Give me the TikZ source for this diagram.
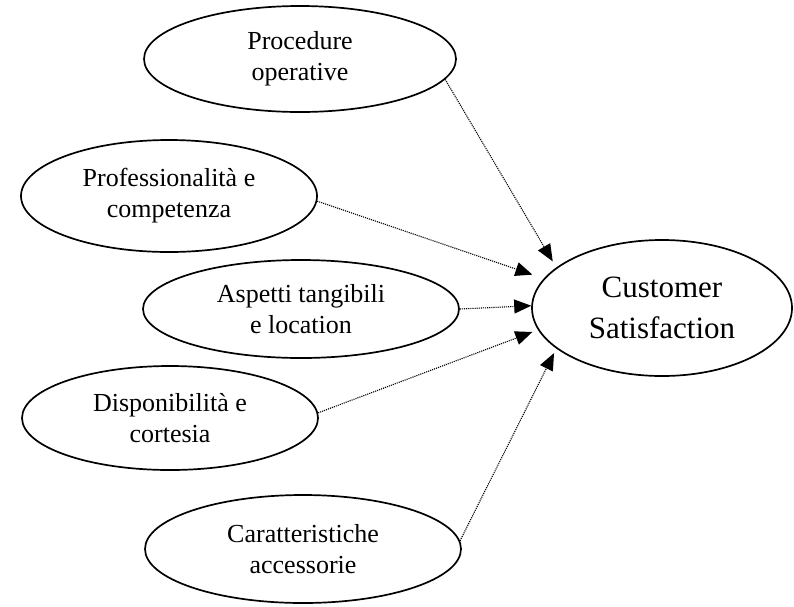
\documentclass[tikz,border=0pt]{standalone}
\usepackage{fontspec}
\setmainfont{Liberation Serif}
\usetikzlibrary{shapes.geometric,arrows.meta}
\begin{document}
\begin{tikzpicture}[x=1pt,y=-1pt,
  factor/.style={ellipse,draw,line width=1.7pt,inner sep=0pt,minimum width=312pt,minimum height=106pt,align=center,font=\fontsize{26}{31}\selectfont},
  goal/.style={ellipse,draw,line width=1.7pt,inner sep=0pt,minimum width=260pt,minimum height=136pt,align=center,font=\fontsize{31}{41}\selectfont},
  link/.style={line width=1.1pt,dash pattern=on 1.1pt off 1pt,-{Triangle[length=17pt,width=14pt]}}]
\useasboundingbox (0,0) rectangle (794,606);
\node[factor] (p1) at (300,59) {Procedure\\operative};
\node[factor,minimum width=296pt,minimum height=112pt] (p2) at (169,196) {Professionalità e\\competenza};
\node[factor,minimum width=316pt,minimum height=98pt] (p3) at (301,309) {Aspetti tangibili\\e location};
\node[factor,minimum width=296pt,minimum height=104pt] (p4) at (170,418) {Disponibilità e\\cortesia};
\node[factor,minimum width=316pt,minimum height=108pt] (p5) at (303,549) {Caratteristiche\\accessorie};
\node[goal] (cs) at (662,308) {Customer\\Satisfaction};
\draw[link,shorten >=7pt] (p1.-8) -- (cs.159.5);
\draw[link,shorten >=12pt] (p2.-2) -- (cs.166);
\draw[link] (p3.east) -- (cs.179);
\draw[link,shorten >=6pt] (p4.2) -- (cs.190);
\draw[link,shorten >=5pt] (p5.3) -- (cs.201);
\end{tikzpicture}
\end{document}
